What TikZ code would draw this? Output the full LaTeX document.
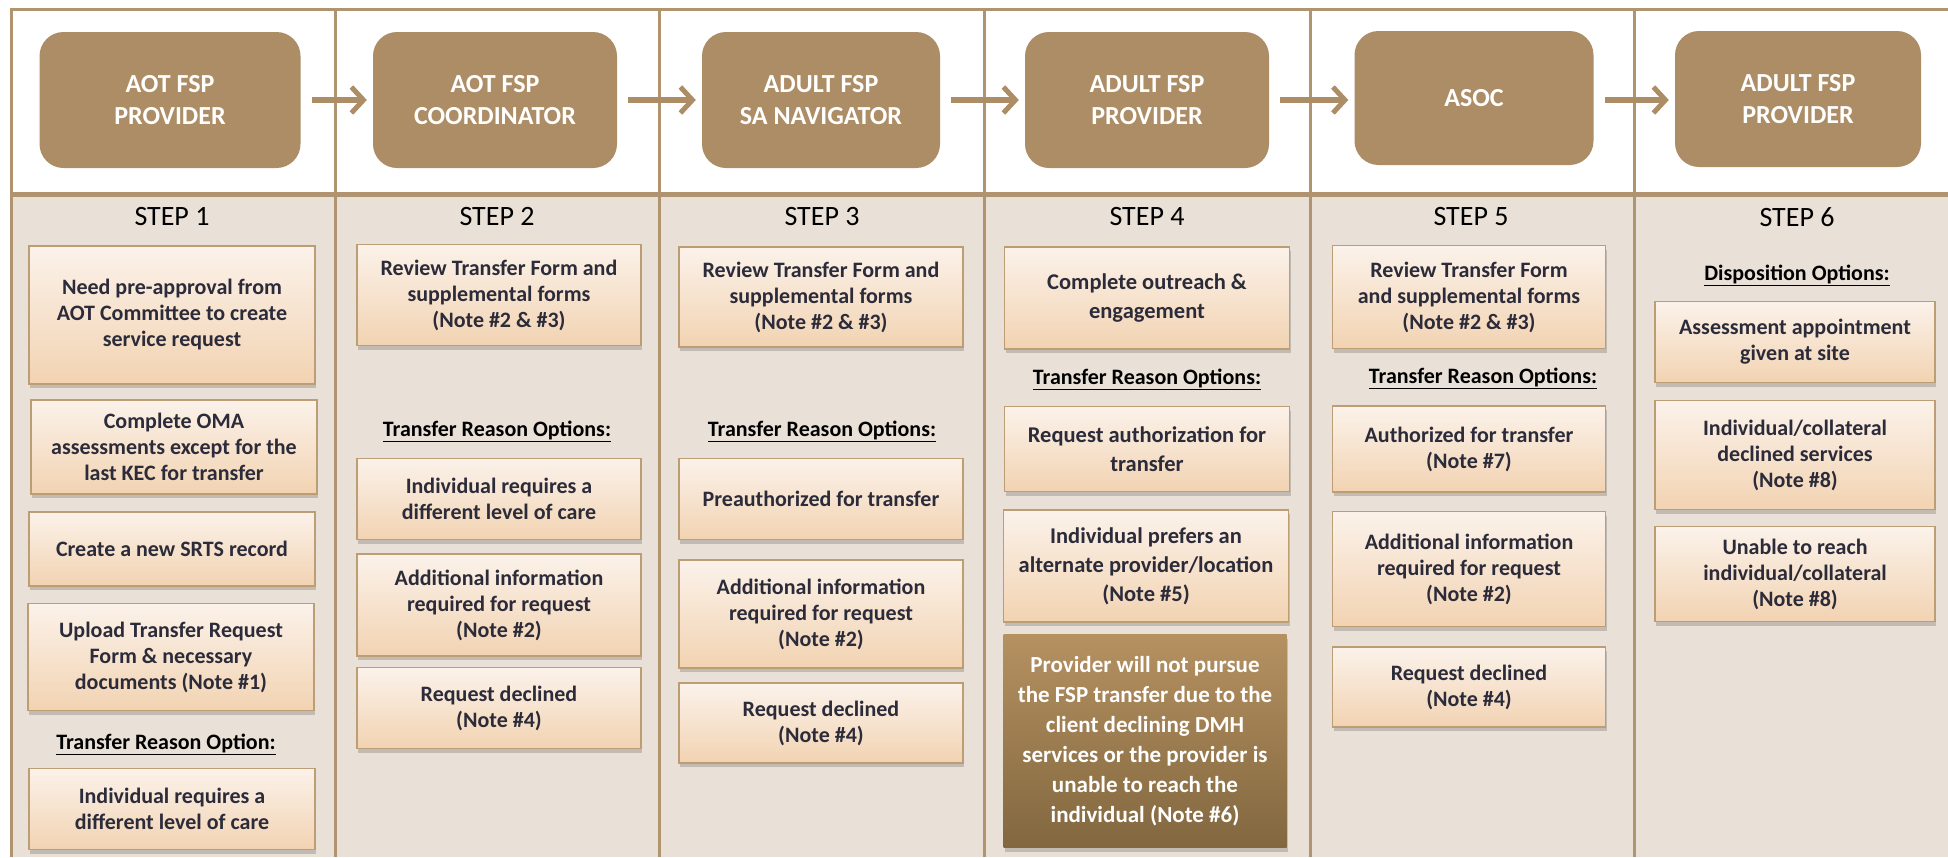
\documentclass[tikz,border=0pt]{standalone}
\usepackage{fontspec}
\setmainfont{Carlito}
\usepackage{xcolor}
\usepackage{tikz}
\definecolor{framebrown}{RGB}{176,148,112}
\definecolor{headertan}{RGB}{173,141,102}
\definecolor{panelbeige}{RGB}{233,225,215}
\definecolor{boxtop}{RGB}{251,242,234}
\definecolor{boxbottom}{RGB}{242,211,178}
\definecolor{boxedge}{RGB}{189,157,116}
\definecolor{boxtext}{RGB}{43,43,58}
\definecolor{darktop}{RGB}{181,145,97}
\definecolor{darkbottom}{RGB}{130,103,63}
\usetikzlibrary{shapes,arrows.meta,positioning,shadows,calc}

\begin{document}
\begin{tikzpicture}[
    x=1pt, y=-1pt,
    hdr/.style={rectangle, rounded corners=24pt, fill=headertan, text=white, font=\fontsize{26}{32}\selectfont\bfseries, align=center, minimum width=244pt, minimum height=136pt},
    stepbox/.style={rectangle, draw=boxedge, line width=1.6pt, top color=boxtop, bottom color=boxbottom, text=boxtext, font=\fontsize{22}{26}\selectfont\bfseries, align=center, minimum width=284pt, drop shadow={shadow xshift=1pt, shadow yshift=-4pt, opacity=0.3, fill=black!60}},
    widebox/.style={stepbox, font=\fontsize{22.5}{29}\selectfont\bfseries},
    darkbox/.style={stepbox, draw=none, top color=darktop, bottom color=darkbottom, text=white, font=\fontsize{23}{30}\selectfont\bfseries},
    steplabel/.style={font=\fontsize{28}{34}\selectfont, text=black},
    opthead/.style={font=\fontsize{22}{26}\selectfont\bfseries, text=black},
    arrow/.style={-{Straight Barb[length=12pt, width=26pt, line width=5pt]}, line width=6pt, draw=headertan, shorten <=11pt, shorten >=6pt}
]
\useasboundingbox (0,0) rectangle (1948,857);

% Frame
\fill[white] (0,0) rectangle (1948,857);
\fill[panelbeige] (11,195) rectangle (1948,857);
\draw[framebrown, line width=3pt] (10,9) -- (1948,9);
\draw[framebrown, line width=3pt] (11,9) -- (11,857);
\draw[framebrown, line width=5pt] (11,194) -- (1948,194);
\draw[framebrown, line width=3pt] (335,9) -- (335,857);
\draw[framebrown, line width=3pt] (659,9) -- (659,857);
\draw[framebrown, line width=3pt] (984,9) -- (984,857);
\draw[framebrown, line width=3pt] (1310,9) -- (1310,857);
\draw[framebrown, line width=3pt] (1634,9) -- (1634,857);

% Roles
\node[hdr, minimum width=261pt] (aotprov) at (170,100) {AOT FSP\\PROVIDER};
\node[hdr] (aotcoord) at (495,100) {AOT FSP\\COORDINATOR};
\node[hdr, minimum width=238pt] (navigator) at (821,100) {ADULT FSP\\SA NAVIGATOR};
\node[hdr] (adultprov) at (1147,100) {ADULT FSP\\PROVIDER};
\node[hdr, minimum width=239pt, minimum height=134pt] (asoc) at (1474,98) {ASOC};
\node[hdr, minimum width=246pt] (adultprov2) at (1798,99) {ADULT FSP\\PROVIDER};

% Step titles
\node[steplabel] (step1) at (172,217) {STEP 1};
\node[steplabel] (step2) at (497,217) {STEP 2};
\node[steplabel] (step3) at (822,217) {STEP 3};
\node[steplabel] (step4) at (1147,217) {STEP 4};
\node[steplabel] (step5) at (1471,217) {STEP 5};
\node[steplabel] (step6) at (1797,217) {STEP 6};

% Step 1
\node[stepbox, minimum width=286pt, minimum height=138pt] (preapp) at (172,315) {Need pre-approval from\\AOT Committee to create\\service request};
\node[stepbox, minimum width=286pt, minimum height=94pt] (oma) at (174,447) {Complete OMA\\assessments except for the\\last KEC for transfer};
\node[stepbox, minimum width=286pt, minimum height=74pt] (srts) at (172,549) {Create a new SRTS record};
\node[stepbox, minimum width=286pt, minimum height=107pt] (upload) at (171,657) {Upload Transfer Request\\Form \& necessary\\documents (Note \#1)};
\node[opthead] (reason1) at (166,744) {\underline{Transfer Reason Option:}};
\node[stepbox, minimum width=286pt, minimum height=81pt] (level1) at (172,809) {Individual requires a\\different level of care};

% Step 2
\node[stepbox, minimum height=101pt] (review2) at (499,295) {Review Transfer Form and\\supplemental forms\\(Note \#2 \& \#3)};
\node[opthead] (reason2) at (497,431) {\underline{Transfer Reason Options:}};
\node[stepbox, minimum height=81pt] (level2) at (499,499) {Individual requires a\\different level of care};
\node[stepbox, minimum height=102pt] (addinfo2) at (499,605) {Additional information\\required for request\\(Note \#2)};
\node[stepbox, minimum height=81pt] (declined2) at (499,708) {Request declined\\(Note \#4)};

% Step 3
\node[stepbox, minimum height=100pt] (review3) at (821,297) {Review Transfer Form and\\supplemental forms\\(Note \#2 \& \#3)};
\node[opthead] (reason3) at (822,431) {\underline{Transfer Reason Options:}};
\node[stepbox, minimum height=81pt] (preauth) at (821,499) {Preauthorized for transfer};
\node[stepbox, minimum height=108pt] (addinfo3) at (821,614) {Additional information\\required for request\\(Note \#2)};
\node[stepbox, minimum height=80pt] (declined3) at (821,723) {Request declined\\(Note \#4)};

% Step 4
\node[widebox, minimum width=285pt, minimum height=102pt] (outreach) at (1147,298) {Complete outreach \&\\engagement};
\node[opthead] (reason4) at (1147,379) {\underline{Transfer Reason Options:}};
\node[widebox, minimum width=285pt, minimum height=85pt] (authreq) at (1147,449) {Request authorization for\\transfer};
\node[widebox, minimum width=285pt, minimum height=112pt] (prefers) at (1146,566) {Individual prefers an\\alternate provider/location\\(Note \#5)};
\node[darkbox, minimum width=283pt, minimum height=213pt] (nopursue) at (1145,741) {Provider will not pursue\\the FSP transfer due to the\\client declining DMH\\services or the provider is\\unable to reach the\\individual (Note \#6)};

% Step 5
\node[stepbox, minimum width=273pt, minimum height=103pt] (review5) at (1469,297) {Review Transfer Form\\and supplemental forms\\(Note \#2 \& \#3)};
\node[opthead] (reason5) at (1483,378) {\underline{Transfer Reason Options:}};
\node[stepbox, minimum width=273pt, minimum height=86pt] (authorized) at (1469,449) {Authorized for transfer\\(Note \#7)};
\node[stepbox, minimum width=273pt, minimum height=115pt] (addinfo5) at (1469,569) {Additional information\\required for request\\(Note \#2)};
\node[stepbox, minimum width=273pt, minimum height=80pt] (declined5) at (1469,687) {Request declined\\(Note \#4)};

% Step 6
\node[opthead] (dispo) at (1797,275) {\underline{Disposition Options:}};
\node[stepbox, minimum width=280pt, minimum height=81pt] (appt) at (1795,342) {Assessment appointment\\given at site};
\node[stepbox, minimum width=280pt, minimum height=109pt] (declsvc) at (1795,455) {Individual/collateral\\declined services\\(Note \#8)};
\node[stepbox, minimum width=280pt, minimum height=95pt] (noreach) at (1795,574) {Unable to reach\\individual/collateral\\(Note \#8)};

% Arrows
\draw[arrow] (aotprov.east) -- (aotcoord.west);
\draw[arrow] (aotcoord.east) -- (navigator.west);
\draw[arrow] (navigator.east) -- (adultprov.west);
\draw[arrow] (adultprov.east) -- (asoc.west |- adultprov.east);
\draw[arrow] (asoc.east |- adultprov.east) -- (adultprov2.west |- adultprov.east);

\end{tikzpicture}
\end{document}
